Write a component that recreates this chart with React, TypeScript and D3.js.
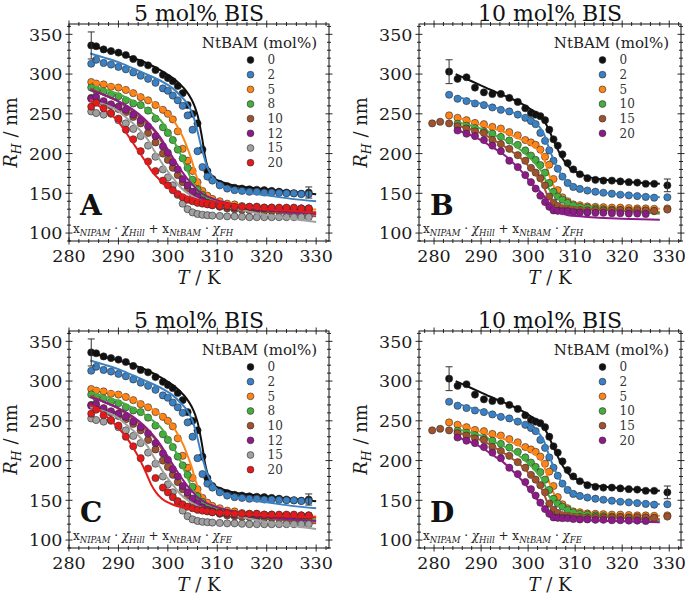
import React from 'react';
import * as d3 from 'd3';

const FONT = '"DejaVu Serif", "Liberation Serif", serif';

const X_TICKS = [280, 290, 300, 310, 320, 330];
const Y_TICKS = [100, 150, 200, 250, 300, 350];
const Y_DOMAIN: [number, number] = [90, 363];

const LABELS_5BIS = ['0', '2', '5', '8', '10', '12', '15', '20'];
const COLORS_5BIS = ['#111111', '#3a80c2', '#ff8418', '#46ad3f', '#a0522d', '#8e1a88', '#a0a0a0', '#e31a1c'];
const LABELS_10BIS = ['0', '2', '5', '10', '15', '20'];
const COLORS_10BIS = ['#111111', '#3a80c2', '#ff8418', '#46ad3f', '#a0522d', '#8e1a88'];

// ---- 5 mol% BIS data (panels A, C) ----
const T_5BIS = [284.5, 285.5, 287, 288.5, 290, 291.5, 293, 294.5, 296, 297.5, 299, 300, 301, 302, 303, 304, 305, 306, 307, 308, 309, 310.5, 312, 313.5, 315, 316.5, 318, 319.5, 321, 322.5, 324, 325.5, 327, 328.5];
const R5_0 = [336, 335, 331, 329, 327, 324, 319, 314, 311, 305, 299, 295, 291, 285, 276, 261, 250, 238, 205, 178, 168, 162, 159, 157, 156, 155, 154.5, 154, 153, 152, 151, 150, 149.5, 151];
const R5_2 = [313, 318, 314, 312, 309, 306, 302, 298, 294, 289, 282, 279, 273, 267, 260, 248, 230, 203, 183, 171, 166, 160, 156, 154, 153, 152, 152, 151, 151, 150.5, 150, 150, 149, 149];
const R5_5 = [290, 288, 287, 284, 283, 280, 276, 271, 267, 261, 255, 250, 243, 228, 206, 191, 178, 164, 153, 147, 143, 140, 137, 136, 134, 133, 133, 132, 132, 131, 131, 130, 130, 130];
const R5_8 = [283, 279, 278, 274, 272, 267, 263, 261, 254, 244, 233, 226, 217, 205, 194, 182, 167, 155, 148, 141, 137, 134, 132, 131, 130, 129, 129, 128, 128, 128, 127, 127, 127, 127];
const R5_10 = [270, 266, 264, 260, 256, 252, 246, 238, 226, 214, 200, 192, 182, 173, 164, 156, 149, 144, 140, 137, 135, 133, 131, 130, 129, 129, 129, 128, 128, 128, 128, 128, 128, 128];
const R5_12 = [269, 271, 266, 262, 259, 255, 249, 242, 234, 222, 209, 201, 189, 180, 168, 160, 152, 146, 141, 138, 136, 134, 133, 132, 132, 132, 131, 131, 131, 131, 131, 131, 131, 131];
const R5_15 = [253, 251, 249, 250, 242, 238, 231, 222, 210, 196, 180, 170, 160, 148, 137, 130, 126, 124, 123, 122.5, 122, 121.5, 121, 121, 120.5, 120, 120, 120, 120, 120, 120, 120, 120, 120];
const R5_20 = [259, 264, 257, 251, 244, 230, 218, 203, 190, 178, 166, 160, 154, 149, 145, 142, 140, 138, 137, 136, 135, 134, 134, 133, 133, 133, 133, 132, 132, 132, 132, 132, 131, 131];
const ERR_5BIS = [[284.5, 336, 17], [328.5, 151, 7]];

// ---- 10 mol% BIS data (panels B, D) ----
const T_10BIS = [279.6, 281.3, 283.2, 285.0, 286.9, 288.7, 290.6, 292.4, 294.2, 296.0, 297.8, 299.4, 300.6, 301.6, 302.6, 303.6, 304.5, 305.4, 306.3, 307.3, 308.4, 309.6, 311.0, 312.6, 314.3, 316.0, 317.8, 319.6, 321.4, 323.2, 325.0, 326.8, 329.6];
const R10_0 = [null, null, 303, 294, 296, 283, 277, 275, 275, 270, 265, 257, 251, 249, 247, 242, 230, 218, 210, 199, 188, 180, 174, 169, 167, 166, 166, 165, 164, 163.5, 162, 162, 160];
const R10_2 = [null, null, 274, 269, 266, 263, 261, 258, 255, 253, 249, 245, 241, 237, 226, 216, 204, 191, 181, 171, 163, 158, 155.5, 153.5, 152, 150.7, 149.5, 148.2, 147.4, 146.5, 145.5, 144.5, 145];
const R10_5 = [null, null, 248, 245, 242, 238.5, 237, 233.5, 231.5, 227, 223, 217, 214, 211, 205, 196, 186, 168, 154, 145, 140, 136, 135, 133.5, 133, 132.5, 132, 132, 131.5, 131, 131, 130.5, 131];
const R10_10 = [null, null, null, 237.5, 235, 232, 228, 225, 221, 216.5, 211, 204, 197.5, 192, 185.5, 176, 163, 152, 146, 142, 138, 135, 133, 132, 131, 130, 129.5, 129, 128.5, 128, 128, 127.5, null];
const R10_15 = [238, 240, 238, 234.5, 231.5, 228, 226, 217, 212, 206, 198, 191, 182, 176, 169, 160, 146, 138, 134, 131, 129.5, 129, 129, 128.5, 129, 128.5, 128.5, 129, 128, 129, 128.5, 128, 129.5];
const R10_20 = [null, null, null, 229, 225, 222, 217, 210, 203, 191, 183, 173, 164, 156, 147, 139, 133, 128.5, 128, 127.5, 127.5, 126.5, 126, 126, 125.5, 125.5, 125, 125, 124.5, 124.5, 124, null, null];
const ERR_10BIS = [[283.2, 303, 15], [329.6, 160, 8]];

// ---- fitted curves ----
const FIT_A_0 = [[284.3, 337], [287, 331], [290, 326], [293, 320], [296, 313], [299, 303], [301, 295], [302.5, 287], [303.8, 278], [304.8, 268], [305.5, 258], [306.1, 246], [306.5, 234], [307, 217], [307.5, 197], [308, 184], [308.5, 176], [309.2, 170], [310, 166.5], [311.5, 163], [313.3, 160], [316, 157.5], [320, 155], [325, 152], [330, 148.7]];
const FIT_A_2 = [[284.3, 326], [287, 321], [290, 315], [293, 307], [296, 299], [299, 290], [301, 282], [302.5, 273], [304, 262], [305, 250], [305.8, 233], [306.5, 215], [307.2, 199], [307.8, 186], [308.5, 176], [309.5, 167], [310.6, 161], [312, 157], [313.3, 154.5], [316, 151], [320, 147.5], [325, 143], [330, 140]];
const FIT_A_5 = [[284.3, 292], [287, 288], [290, 284], [293, 277], [295, 271], [297, 264], [298.5, 258], [300, 250], [301.1, 242], [302.2, 231], [303.1, 220], [304, 206], [304.8, 192], [305.6, 175], [306.5, 160], [307.5, 151], [308.5, 146], [310, 141.5], [313, 137], [316, 134], [320, 132.5], [325, 130.5], [330, 129.5]];
const FIT_A_8 = [[284.3, 286], [287, 281], [290, 275], [293, 266], [295, 259], [297, 250], [298.5, 242], [300, 229], [301.1, 217], [302, 206], [302.8, 196], [303.5, 185], [304.2, 175], [305, 164], [305.8, 155], [307, 148], [309, 142], [312, 136], [316, 131], [320, 129], [325, 127], [330, 126]];
const FIT_A_10 = [[284.3, 282], [287, 274], [290, 265], [293, 252], [295, 242], [296.5, 233], [297.7, 225], [298.8, 214], [299.8, 204], [300.8, 192], [301.8, 180], [302.8, 169], [303.8, 160], [305, 152], [306.5, 145], [308.5, 140], [311, 137], [313.3, 134.5], [317, 131], [322, 126], [326, 123], [330, 121]];
const FIT_A_12 = [[284.3, 280], [287, 274], [290, 266], [293, 255], [295, 245], [297, 232], [298.5, 220], [300, 205], [301.5, 190], [303, 176], [304.5, 164], [306, 154], [308, 146], [311, 139.5], [315, 134], [320, 129], [325, 126], [330, 124]];
const FIT_A_15 = [[284.3, 267], [287, 262], [289.6, 255], [292, 243], [294.4, 229], [296, 217], [297.1, 205], [298.5, 191], [299.8, 179], [301.2, 168], [302.5, 158], [304.5, 148], [306.5, 141.5], [309, 136], [313.3, 131], [318, 125], [324, 119], [330, 114]];
const FIT_A_20 = [[284.3, 267], [286, 260], [288.3, 250], [290, 240], [291.7, 225], [293, 213], [294.4, 200], [295.8, 187], [297.1, 175], [298.5, 166], [299.8, 158], [301.5, 152], [303.1, 147.5], [306, 142], [309.9, 139], [315, 134], [320, 130], [325, 128], [330, 126]];
const FIT_C_20 = [[284.3, 270], [286, 264], [288, 253], [290, 241], [291.5, 230], [293, 216], [294.5, 199], [295.7, 183], [296.6, 170], [297.6, 160], [298.8, 152], [300.5, 146], [303, 141], [306.5, 137.5], [310, 135], [315, 133], [320, 131], [325, 129.5], [330, 128.5]];

const FIT_B_0 = [[284.6, 300], [288, 291], [291, 283], [294, 275], [296.5, 269], [298.5, 263], [300.5, 256], [302, 250], [303, 244], [304, 235], [305, 222], [306, 209], [307, 197], [308, 188], [309, 181], [310.5, 176], [312.5, 171], [315, 168], [318, 166], [322, 164], [328, 162]];
const FIT_B_2 = [[284.6, 272], [288, 266], [291, 261], [294, 256], [296.5, 252], [298.1, 249], [300, 244], [301.6, 238], [302.6, 232], [303.4, 224], [304.3, 209], [305, 198], [305.7, 188], [306.4, 180], [307.1, 173], [308, 166], [309.3, 160], [310.5, 156.5], [312.1, 154], [315, 151], [318, 149.5], [322, 147.5], [328, 145]];
const FIT_B_5 = [[284.6, 246], [288, 240], [291, 234], [294.5, 228], [298, 219], [300.9, 210], [302, 205], [303, 198], [303.7, 188], [304.3, 176], [305, 165], [305.7, 156], [306.4, 150], [307.1, 145.5], [308, 141.5], [309.3, 139], [311, 136.5], [312.8, 135], [317.8, 132.6], [322, 131.5], [328, 130.5]];
const FIT_B_10 = [[284.6, 240], [288, 235], [291, 229], [293, 223], [295.2, 217], [297, 211], [298.1, 206], [299.5, 199], [300.9, 191.5], [302, 184], [303, 176], [303.7, 167], [304.3, 157], [305.3, 149], [306.4, 143.5], [307.8, 139], [309.3, 136], [311.5, 133.5], [314.2, 132], [318, 129.5], [322, 127], [328, 124.3]];
const FIT_B_15 = [[284.6, 236], [288, 230], [291, 223], [293, 216], [295.2, 208], [296.7, 202], [298.1, 196], [299.5, 188], [300.9, 179], [302, 171], [303, 163], [303.7, 153], [304.3, 145], [305.3, 139.5], [306.4, 136], [307.8, 134], [309.3, 132.6], [311.5, 131], [314.2, 129.7], [320, 128], [328, 126.3]];
const FIT_B_20 = [[284.3, 231], [287, 225], [289, 220], [291, 213], [293, 206], [294.5, 200], [296, 193], [297.4, 185], [299, 175], [300.2, 166], [301.5, 158], [303, 149.5], [304.3, 139], [305.5, 132], [306.8, 126], [308.5, 122.5], [311, 121], [314.2, 119.5], [320, 118], [328, 116.7]];
const FIT_D_20 = [[284.3, 231], [287, 225], [289, 220], [291, 213], [293, 205], [294.5, 199], [296, 191], [297.4, 183], [299, 173], [300.2, 164], [301.5, 154], [303, 143], [304.3, 134], [305.5, 129], [306.8, 126.5], [308.5, 125.5], [311, 125], [314.2, 124.5], [320, 123.5], [328, 122.5]];

type PanelProps = {
  left: number; right: number; top: number; bottom: number;
  xDomain: [number, number];
  title: string; letter: string; model: string;
  labels: string[]; colors: string[];
  temps: number[]; series: (number | null)[][]; fits: number[][][];
  errs: number[][];
};

function Panel(p: PanelProps) {
  const xs = d3.scaleLinear().domain(p.xDomain).range([p.left, p.right]);
  const ys = d3.scaleLinear().domain(Y_DOMAIN).range([p.bottom, p.top]);
  const line = d3.line<number[]>().x(d => xs(d[0])).y(d => ys(d[1])).curve(d3.curveMonotoneX);
  const minorX = d3.range(Math.ceil(p.xDomain[0] / 2) * 2, p.xDomain[1], 2).filter(v => v % 10 !== 0);
  const minorY = d3.range(Math.ceil(Y_DOMAIN[0] / 10) * 10, Y_DOMAIN[1], 10).filter(v => v % 50 !== 0);
  const cx = (p.left + p.right) / 2;
  const cy = (p.top + p.bottom) / 2;
  const M = 3.5, m = 2;
  const tk = '#1a1a1a';
  return (
    <g fontFamily={FONT}>
      {p.series.map((vals, si) => (
        <g key={si}>
          {vals.map((v, i) => v == null ? null : (
            <circle key={i} cx={xs(p.temps[i])} cy={ys(v)} r={3.6} fill={p.colors[si]} stroke="#2e2e2e" strokeWidth={0.6} />
          ))}
          <path d={line(p.fits[si]) || ''} fill="none" stroke={p.colors[si]} strokeWidth={2} />
        </g>
      ))}
      {p.errs.map((e, i) => (
        <g key={i} stroke="#333" strokeWidth={1}>
          <line x1={xs(e[0])} x2={xs(e[0])} y1={ys(e[1] - e[2])} y2={ys(e[1] + e[2])} />
          <line x1={xs(e[0]) - 3.5} x2={xs(e[0]) + 3.5} y1={ys(e[1] - e[2])} y2={ys(e[1] - e[2])} />
          <line x1={xs(e[0]) - 3.5} x2={xs(e[0]) + 3.5} y1={ys(e[1] + e[2])} y2={ys(e[1] + e[2])} />
        </g>
      ))}
      <rect x={p.left} y={p.top} width={p.right - p.left} height={p.bottom - p.top} fill="none" stroke="#111" strokeWidth={1} />
      <g stroke="#111" strokeWidth={0.9}>
        {X_TICKS.map(v => (
          <g key={'xt' + v}>
            <line x1={xs(v)} x2={xs(v)} y1={p.bottom - M} y2={p.bottom + M} />
            <line x1={xs(v)} x2={xs(v)} y1={p.top - M} y2={p.top + M} />
          </g>
        ))}
        {minorX.map(v => (
          <g key={'xm' + v}>
            <line x1={xs(v)} x2={xs(v)} y1={p.bottom - m} y2={p.bottom + m} />
            <line x1={xs(v)} x2={xs(v)} y1={p.top - m} y2={p.top + m} />
          </g>
        ))}
        {Y_TICKS.map(v => (
          <g key={'yt' + v}>
            <line x1={p.left - M} x2={p.left + M} y1={ys(v)} y2={ys(v)} />
            <line x1={p.right - M} x2={p.right + M} y1={ys(v)} y2={ys(v)} />
          </g>
        ))}
        {minorY.map(v => (
          <g key={'ym' + v}>
            <line x1={p.left - m} x2={p.left + m} y1={ys(v)} y2={ys(v)} />
            <line x1={p.right - m} x2={p.right + m} y1={ys(v)} y2={ys(v)} />
          </g>
        ))}
      </g>
      {X_TICKS.map(v => (
        <text key={'xl' + v} x={xs(v)} y={p.bottom + 21} fontSize={17.5} textAnchor="middle" fill={tk}>{v}</text>
      ))}
      {Y_TICKS.map(v => (
        <text key={'yl' + v} x={p.left - 6.5} y={ys(v)} dy="0.36em" fontSize={17.5} textAnchor="end" fill={tk}>{v}</text>
      ))}
      <text x={cx} y={p.bottom + 43} fontSize={18} textAnchor="middle" fill={tk}>
        <tspan fontStyle="italic">T</tspan><tspan> / K</tspan>
      </text>
      <text transform={`translate(${p.left - 52},${cy}) rotate(-90)`} fontSize={18} textAnchor="middle" fill={tk}>
        <tspan fontStyle="italic">R</tspan><tspan fontStyle="italic" fontSize={12.5} dy={4}>H</tspan><tspan dy={-4}> / nm</tspan>
      </text>
      <text x={cx} y={p.top - 3.5} fontSize={22} textAnchor="middle" fill="#111">{p.title}</text>
      <text x={p.left + 11} y={p.top + 191} fontSize={28} fontWeight="bold" fill="#111">{p.letter}</text>
      <text x={p.left + 4} y={p.bottom - 8} fontSize={12} fill="#222">
        <tspan>x</tspan><tspan fontSize={8.5} fontStyle="italic" dy={2.5}>NIPAM</tspan>
        <tspan dy={-2.5}> · </tspan><tspan fontStyle="italic">χ</tspan><tspan fontSize={8.5} fontStyle="italic" dy={2.5}>Hill</tspan>
        <tspan dy={-2.5}> + x</tspan><tspan fontSize={8.5} fontStyle="italic" dy={2.5}>NtBAM</tspan>
        <tspan dy={-2.5}> · </tspan><tspan fontStyle="italic">χ</tspan><tspan fontSize={8.5} fontStyle="italic" dy={2.5}>{p.model}</tspan>
      </text>
      <text x={p.right - 12} y={p.top + 24} fontSize={15} textAnchor="end" fill="#222">NtBAM (mol%)</text>
      {p.labels.map((lab, i) => (
        <g key={'lg' + i}>
          <circle cx={p.right - 78.5} cy={p.top + 36 + i * 14.67} r={3.4} fill={p.colors[i]} stroke="#2e2e2e" strokeWidth={0.6} />
          <text x={p.right - 61.5} y={p.top + 36 + i * 14.67} dy="0.36em" fontSize={12} fill="#333">{lab}</text>
        </g>
      ))}
    </g>
  );
}

export default function App() {
  const s5 = [R5_0, R5_2, R5_5, R5_8, R5_10, R5_12, R5_15, R5_20];
  const s10 = [R10_0, R10_2, R10_5, R10_10, R10_15, R10_20];
  const fitsA = [FIT_A_0, FIT_A_2, FIT_A_5, FIT_A_8, FIT_A_10, FIT_A_12, FIT_A_15, FIT_A_20];
  const fitsC = [FIT_A_0, FIT_A_2, FIT_A_5, FIT_A_8, FIT_A_10, FIT_A_12, FIT_A_15, FIT_C_20];
  const fitsB = [FIT_B_0, FIT_B_2, FIT_B_5, FIT_B_10, FIT_B_15, FIT_B_20];
  const fitsD = [FIT_B_0, FIT_B_2, FIT_B_5, FIT_B_10, FIT_B_15, FIT_D_20];
  const L = { left: 69, right: 329, xDomain: [280, 332.6] as [number, number] };
  const R = { left: 419, right: 681, xDomain: [276.8, 332.5] as [number, number] };
  const TOP = { top: 24, bottom: 241 };
  const BOT = { top: 331, bottom: 548 };
  return (
    <svg width={685} height={595} style={{ position: 'absolute', left: 0, top: 0, background: '#fff' }}>
      <rect width={685} height={595} fill="#fff" />
      <Panel {...L} {...TOP} title="5 mol% BIS" letter="A" model="FH" labels={LABELS_5BIS} colors={COLORS_5BIS} temps={T_5BIS} series={s5} fits={fitsA} errs={ERR_5BIS} />
      <Panel {...R} {...TOP} title="10 mol% BIS" letter="B" model="FH" labels={LABELS_10BIS} colors={COLORS_10BIS} temps={T_10BIS} series={s10} fits={fitsB} errs={ERR_10BIS} />
      <Panel {...L} {...BOT} title="5 mol% BIS" letter="C" model="FE" labels={LABELS_5BIS} colors={COLORS_5BIS} temps={T_5BIS} series={s5} fits={fitsC} errs={ERR_5BIS} />
      <Panel {...R} {...BOT} title="10 mol% BIS" letter="D" model="FE" labels={LABELS_10BIS} colors={COLORS_10BIS} temps={T_10BIS} series={s10} fits={fitsD} errs={ERR_10BIS} />
    </svg>
  );
}
